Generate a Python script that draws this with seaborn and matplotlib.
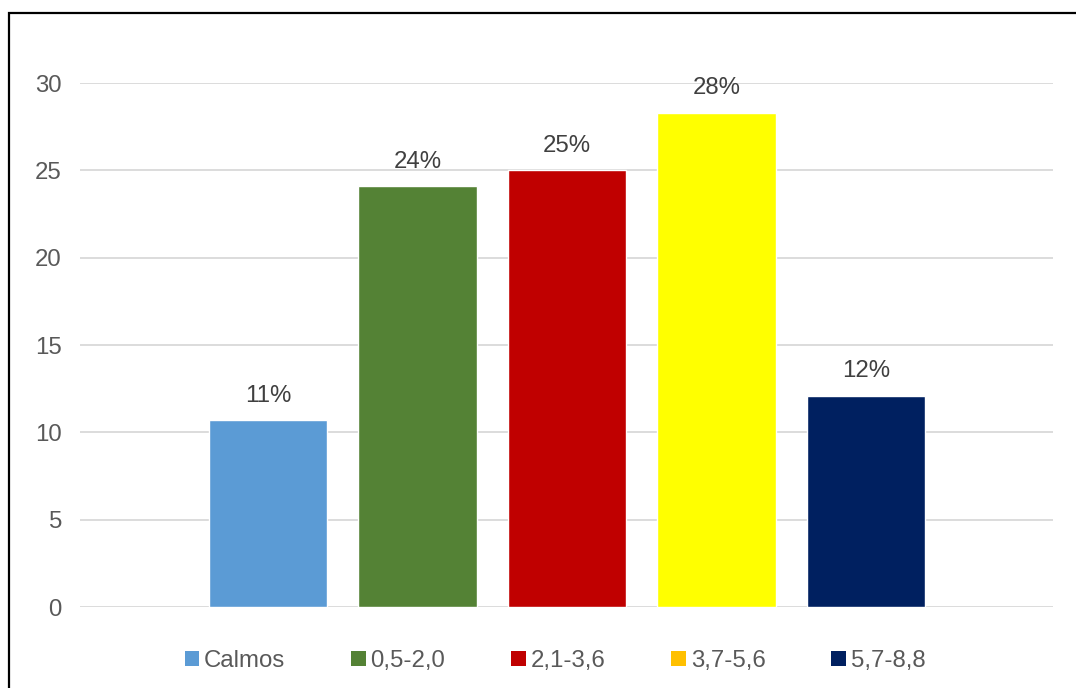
import matplotlib
matplotlib.use("Agg")
import matplotlib.pyplot as plt
import seaborn as sns
import pandas as pd
from matplotlib.patches import Patch, Rectangle

categories = ["Calmos", "0,5-2,0", "2,1-3,6", "3,7-5,6", "5,7-8,8"]
values = [10.7, 24.1, 25.0, 28.3, 12.1]
labels = ["11%", "24%", "25%", "28%", "12%"]
bar_colors = ["#5B9BD5", "#548235", "#C00000", "#FFFF00", "#002060"]
legend_colors = ["#5B9BD5", "#548235", "#C00000", "#FFC000", "#002060"]
yticks = [0, 5, 10, 15, 20, 25, 30]

sns.set_theme(style="white")
plt.rcParams["font.family"] = ["Liberation Sans", "DejaVu Sans"]

W, H = 1076, 688
fig = plt.figure(figsize=(W / 100, H / 100), dpi=100)
ax = fig.add_axes([80 / W, 1 - 607 / H, (1053 - 80) / W, (607 - 83) / H])

df = pd.DataFrame({"cat": categories, "val": values})
sns.barplot(data=df, x="cat", y="val", hue="cat", palette=bar_colors,
            dodge=False, width=0.79, legend=False, ax=ax, saturation=1)

ax.set_xlim(-1.258, 5.251)
ax.set_ylim(0, 30)
ax.set_yticks(yticks)
ax.set_xticks([])
ax.set_xlabel("")
ax.set_ylabel("")
ax.yaxis.grid(True, color="#D9D9D9", linewidth=1.3)
ax.set_axisbelow(True)
for s in ax.spines.values():
    s.set_visible(False)
ax.tick_params(axis="y", length=0, pad=13, labelsize=17.3, labelcolor="#595959")

for i, (v, lab) in enumerate(zip(values, labels)):
    ax.annotate(lab, (i, v), xytext=(0, 9.5), textcoords="offset points",
                ha="center", va="bottom", fontsize=17.3, color="#404040")

handles = [Patch(facecolor=c, edgecolor="none") for c in legend_colors]
fig.legend(handles, categories, loc="center", bbox_to_anchor=(555 / W, 1 - 661 / H),
           ncol=5, frameon=False, fontsize=17.3, labelcolor="#595959",
           handlelength=0.6, handleheight=0.6, handletextpad=0.2,
           columnspacing=2.75)

fig.patches.append(Rectangle((8.5 / W, -0.1), 1.2, 1 - 13.5 / H + 0.1,
                             transform=fig.transFigure, fill=False,
                             edgecolor="black", linewidth=1.6))

fig.savefig("out.png", dpi=100, facecolor="white")
